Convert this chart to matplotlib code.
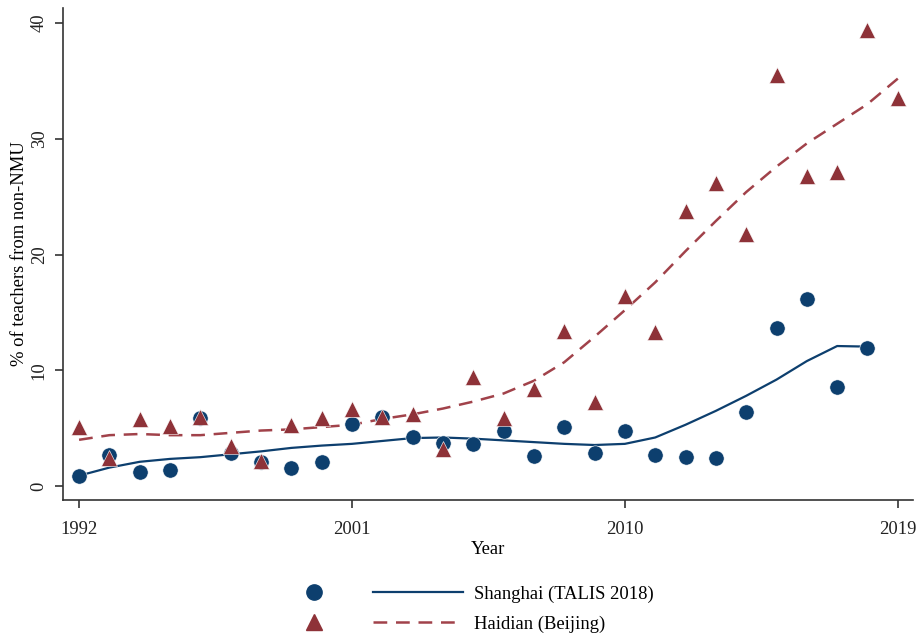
import matplotlib
matplotlib.use("Agg")
import matplotlib.pyplot as plt
from matplotlib.lines import Line2D

plt.rcParams['font.family'] = ['Liberation Serif', 'DejaVu Serif']

years = list(range(1992, 2020))

# Observed shares of teachers not trained at normal universities (%)
shanghai_years = list(range(1992, 2019))
shanghai_pts = [0.9, 2.7, 1.2, 1.4, 5.9, 2.9, 2.1, 1.6, 2.1, 5.4, 6.0, 4.2, 3.7, 3.6,
                4.8, 2.6, 5.1, 2.9, 4.8, 2.7, 2.5, 2.4, 6.4, 13.7, 16.2, 8.6, 11.9]
haidian_pts = [5.1, 2.4, 5.8, 5.2, 6.0, 3.5, 2.2, 5.3, 5.9, 6.7, 6.0, 6.2, 3.2, 9.4,
               5.9, 8.4, 13.4, 7.3, 16.4, 13.3, 23.8, 26.2, 21.8, 35.5, 26.8, 27.1,
               39.4, 33.5]

# Smoothed trends
shanghai_fit = [0.9, 1.6, 2.1, 2.35, 2.5, 2.75, 3.0, 3.3, 3.5, 3.65, 3.9, 4.15, 4.2, 4.1,
                3.95, 3.8, 3.65, 3.55, 3.65, 4.2, 5.3, 6.5, 7.8, 9.2, 10.8, 12.1, 12.05]
haidian_fit = [4.0, 4.4, 4.5, 4.4, 4.4, 4.6, 4.8, 4.9, 5.1, 5.3, 5.8, 6.2, 6.7, 7.3,
               8.0, 9.1, 10.7, 12.9, 15.2, 17.6, 20.3, 22.9, 25.4, 27.6, 29.6, 31.3,
               33.0, 35.2]

xticks = [1992, 2001, 2010, 2019]
yticks = [0, 10, 20, 30, 40]

navy = '#0d3f6e'
maroon = '#8e3238'
maroon_line = '#a1424a'
fs = 13.4

fig = plt.figure(figsize=(9.17, 6.4), dpi=100)
ax = fig.add_axes([0.0687, 0.21875, 0.9269, 0.76875])

ax.plot(shanghai_years, shanghai_fit, color=navy, lw=1.6, zorder=2)
ax.plot(years, haidian_fit, color=maroon_line, lw=1.8, dashes=(5.5, 3.5), zorder=2)
ax.plot(shanghai_years, shanghai_pts, 'o', color=navy, ms=11, mec='white', mew=0.4, zorder=3)
ax.plot(years, haidian_pts, '^', color=maroon, ms=12, mec='white', mew=0.4, zorder=4)

ax.set_xlim(1991.47, 2019.5)
ax.set_ylim(-1.2, 41.3)
ax.set_xticks(xticks)
ax.set_yticks(yticks)
ax.set_xticklabels([str(t) for t in xticks])
ax.set_yticklabels([str(t) for t in yticks], rotation=90, va='center')
ax.tick_params(direction='out', length=6, width=1.1, labelsize=fs, colors='#222222')
ax.tick_params(axis='x', pad=9)
ax.tick_params(axis='y', pad=5)
for side in ('top', 'right'):
    ax.spines[side].set_visible(False)
for side in ('left', 'bottom'):
    ax.spines[side].set_linewidth(1.2)
    ax.spines[side].set_color('#333333')

ax.set_xlabel('Year', fontsize=fs, labelpad=2)
ax.set_ylabel('% of teachers from non-NMU', fontsize=fs, labelpad=2)

handles = [
    Line2D([], [], ls='none', marker='o', color=navy, ms=11),
    Line2D([], [], ls='none', marker='^', color=maroon, ms=12),
    Line2D([], [], color=navy, lw=1.6),
    Line2D([], [], color=maroon_line, lw=1.8, dashes=(5.5, 3.5)),
]
labels = ['', '', 'Shanghai (TALIS 2018)', 'Haidian (Beijing)']
fig.legend(handles, labels, ncol=2, loc='center', bbox_to_anchor=(0.503, 0.0485),
           frameon=False, fontsize=fs, handlelength=4.85, handletextpad=0.6,
           columnspacing=0.15, labelspacing=0.68)

fig.savefig('out.png', dpi=100)
